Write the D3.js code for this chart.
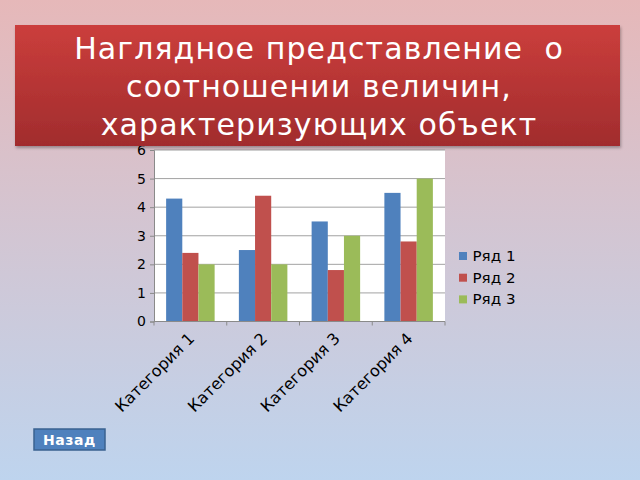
<!DOCTYPE html>
<html>
<head>
<meta charset="utf-8">
<script src="https://cdn.jsdelivr.net/npm/d3@7"></script>
<style>
  body { margin: 0; overflow: hidden; }
  svg { display: block; font-family: "DejaVu Sans", sans-serif; }
</style>
</head>
<body>
<div id="chart"></div>
<script>
const categories = ['Категория 1', 'Категория 2', 'Категория 3', 'Категория 4']
const seriesNames = ['Ряд 1', 'Ряд 2', 'Ряд 3']
const row1 = [4.3, 2.5, 3.5, 4.5]
const row2 = [2.4, 4.4, 1.8, 2.8]
const row3 = [2, 2, 3, 5]
const yTicks = [0, 1, 2, 3, 4, 5, 6]
const titleLines = ['Наглядное представление  о', 'соотношении величин,', 'характеризующих объект']
const colors = ['#4F81BD', '#C0504D', '#9BBB59']

const W = 640, H = 480
const plot = { left: 154, right: 445, top: 150, bottom: 321.5 }

const svg = d3.select('#chart').append('svg').attr('width', W).attr('height', H)
const defs = svg.append('defs')

const bg = defs.append('linearGradient').attr('id', 'bg').attr('x1', 0).attr('y1', 0).attr('x2', 0).attr('y2', 1)
bg.append('stop').attr('offset', '0%').attr('stop-color', '#E6B8B9')
bg.append('stop').attr('offset', '100%').attr('stop-color', '#BED4EE')

const tg = defs.append('linearGradient').attr('id', 'tbox').attr('x1', 0).attr('y1', 0).attr('x2', 0).attr('y2', 1)
tg.append('stop').attr('offset', '0%').attr('stop-color', '#CB3E3C')
tg.append('stop').attr('offset', '100%').attr('stop-color', '#A12C2D')

const sh = defs.append('filter').attr('id', 'shadow').attr('x', '-5%').attr('y', '-5%').attr('width', '110%').attr('height', '115%')
sh.append('feDropShadow').attr('dx', 1).attr('dy', 2).attr('stdDeviation', 1.5).attr('flood-color', '#000').attr('flood-opacity', 0.3)

svg.append('rect').attr('width', W).attr('height', H).attr('fill', 'url(#bg)')

// ---- chart ----
const series = [row1, row2, row3]
const x0 = d3.scaleBand().domain(categories).range([plot.left, plot.right])
const bw = x0.bandwidth()
const x1 = d3.scaleBand().domain(seriesNames).range([bw / 6, bw * 5 / 6])
const y = d3.scaleLinear().domain([0, 6]).range([plot.bottom, plot.top])

svg.append('rect')
  .attr('x', plot.left).attr('y', plot.top)
  .attr('width', plot.right - plot.left).attr('height', plot.bottom - plot.top)
  .attr('fill', '#fff')

// gridlines
svg.append('g').selectAll('line').data(yTicks.filter(d => d > 0)).join('line')
  .attr('x1', plot.left).attr('x2', plot.right)
  .attr('y1', d => y(d)).attr('y2', d => y(d))
  .attr('stroke', '#8a8a8a').attr('stroke-width', 0.8)

// bars
svg.append('g').selectAll('g').data(series).join('g')
  .attr('fill', (d, i) => colors[i])
  .selectAll('rect').data((d, i) => d.map((v, j) => ({ v, cat: categories[j], s: seriesNames[i] }))).join('rect')
  .attr('x', d => x0(d.cat) + x1(d.s))
  .attr('width', x1.bandwidth())
  .attr('y', d => y(d.v))
  .attr('height', d => y(0) - y(d.v))

// y axis
const yAxis = d3.axisLeft(y).tickValues(yTicks).tickFormat(d3.format('d')).tickSize(4).tickPadding(4)
const gy = svg.append('g').attr('transform', `translate(${plot.left},0)`).call(yAxis)
gy.select('.domain').attr('stroke', '#8a8a8a')
gy.selectAll('.tick line').attr('stroke', '#8a8a8a')
gy.selectAll('.tick text').attr('fill', '#000').style('font-size', '14px').style('font-family', '"DejaVu Sans", sans-serif')

// x axis (ticks on category boundaries)
const gx = svg.append('g').attr('transform', `translate(0,${plot.bottom})`)
gx.append('line').attr('x1', plot.left).attr('x2', plot.right).attr('stroke', '#8a8a8a')
gx.selectAll('line.tk').data(categories.concat([null])).join('line').attr('class', 'tk')
  .attr('x1', (d, i) => plot.left + i * bw).attr('x2', (d, i) => plot.left + i * bw)
  .attr('y1', 0).attr('y2', 4).attr('stroke', '#8a8a8a')
gx.selectAll('text').data(categories).join('text')
  .attr('transform', d => `translate(${x0(d) + bw / 2 + 1},${14}) rotate(-45)`)
  .attr('text-anchor', 'end').attr('dy', '0.35em')
  .style('font-size', '16px').attr('fill', '#000')
  .text(d => d)

// legend
const lg = svg.append('g').attr('transform', 'translate(459,252)')
const li = lg.selectAll('g').data(seriesNames).join('g')
  .attr('transform', (d, i) => `translate(0,${i * 21.7})`)
li.append('rect').attr('width', 8).attr('height', 8).attr('fill', (d, i) => colors[i])
li.append('text').attr('x', 13.5).attr('y', 9).style('font-size', '13.5px').attr('fill', '#000')
  .attr('textLength', 43).attr('lengthAdjust', 'spacingAndGlyphs')
  .text(d => d)

// ---- title box ----
svg.append('rect').attr('x', 15).attr('y', 25).attr('width', 605).attr('height', 121)
  .attr('fill', 'url(#tbox)').attr('filter', 'url(#shadow)')
svg.append('g').selectAll('text').data(titleLines).join('text')
  .attr('x', 319).attr('y', (d, i) => 59 + i * 38)
  .attr('text-anchor', 'middle').attr('fill', '#fff')
  .style('font-size', '30px').style('white-space', 'pre').style('letter-spacing', '1.1px')
  .text(d => d)

// ---- back button ----
const btn = svg.append('g').attr('transform', 'translate(34,429)')
btn.append('rect').attr('width', 71).attr('height', 21)
  .attr('fill', '#4F81BD').attr('stroke', '#3A6290').attr('stroke-width', 1.5)
btn.append('text').attr('x', 35.5).attr('y', 15.5).attr('text-anchor', 'middle')
  .attr('fill', '#fff').style('font-size', '14px').style('font-weight', '600').style('letter-spacing', '0.6px')
  .text('Назад')
</script>
</body>
</html>
